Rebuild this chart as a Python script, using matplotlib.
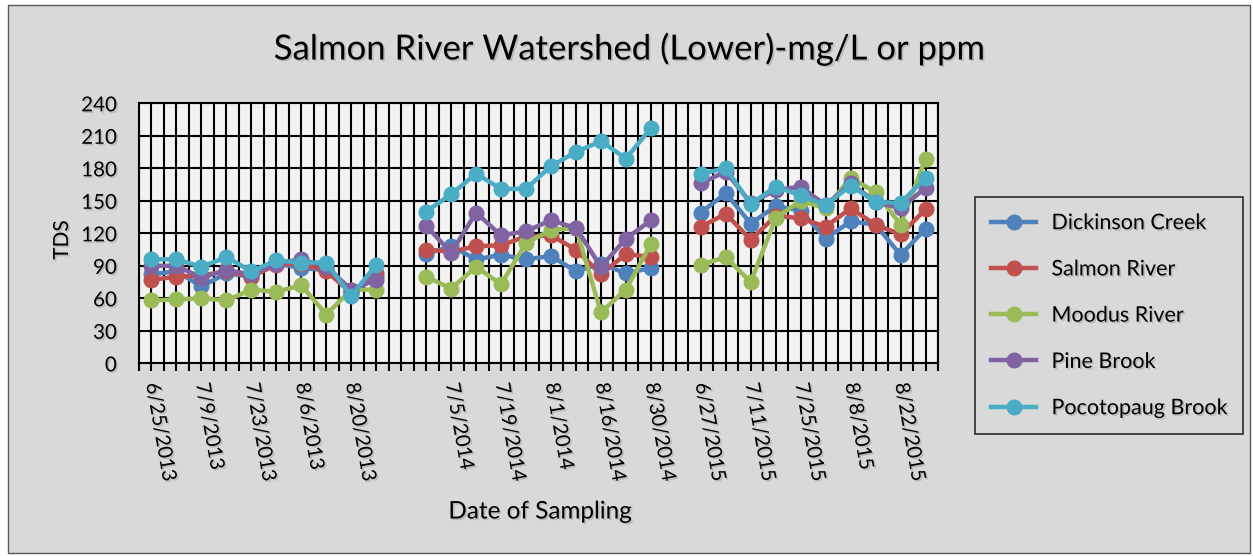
import numpy as np
import matplotlib
matplotlib.use("Agg")
import matplotlib.pyplot as plt
import matplotlib.patheffects as pe
from matplotlib.patches import Rectangle

# ── 데이터 ──────────────────────────────────────────────
dates = (
    ["6/25/2013", "7/2/2013", "7/9/2013", "7/16/2013", "7/23/2013",
     "7/30/2013", "8/6/2013", "8/13/2013", "8/20/2013", "8/27/2013"]
    + [""]
    + ["6/28/2014", "7/5/2014", "7/12/2014", "7/19/2014", "7/26/2014",
       "8/1/2014", "8/9/2014", "8/16/2014", "8/23/2014", "8/30/2014"]
    + [""]
    + ["6/27/2015", "7/4/2015", "7/11/2015", "7/18/2015", "7/25/2015",
       "8/1/2015", "8/8/2015", "8/15/2015", "8/22/2015", "8/29/2015"]
)

gap = [None]
dickinson = ([82, 85, 71, 83, 80, 92, 88, 86, 66, 80] + gap
             + [101, 108, 96, 100, 96, 99, 85, 92, 83, 88] + gap
             + [139, 157, 129, 145, 141, 115, 131, 128, 100, 124])
salmon = ([77, 80, 81, 85, 80, 91, 92, 85, 65, 83] + gap
          + [105, 103, 108, 109, 117, 118, 105, 82, 101, 98] + gap
          + [126, 138, 114, 136, 134, 126, 143, 128, 119, 142])
moodus = ([58, 59, 60, 58, 68, 66, 72, 45, 68, 68] + gap
          + [80, 69, 89, 73, 111, 123, 125, 47, 68, 110] + gap
          + [91, 98, 75, 134, 150, 143, 171, 158, 128, 189])
pine = ([90, 90, 79, 86, 82, 92, 96, 89, 68, 77] + gap
        + [127, 102, 139, 118, 122, 132, 125, 89, 115, 132] + gap
        + [166, 177, 148, 160, 163, 146, 166, 149, 143, 162])
pocotopaug = ([96, 96, 89, 98, 85, 95, 93, 93, 62, 91] + gap
              + [140, 156, 175, 161, 161, 182, 195, 205, 189, 217] + gap
              + [175, 180, 147, 163, 155, 146, 164, 149, 148, 171])

series_names = ["Dickinson Creek", "Salmon River", "Moodus River",
                "Pine Brook", "Pocotopaug Brook"]
series_values = [dickinson, salmon, moodus, pine, pocotopaug]
colors = ["#4F81BD", "#C0504D", "#9BBB59", "#8064A2", "#4BACC6"]

# ── 그리기 ──────────────────────────────────────────────
FONT = ["Lato", "DejaVu Sans"]
plt.rcParams["font.family"] = FONT

W, H = 1253, 556
fig = plt.figure(figsize=(W / 100, H / 100), dpi=100)
fig.patch.set_facecolor("white")

# 차트 바깥 회색 영역 + 테두리
fig.add_artist(Rectangle((8 / W, 3 / H), (1250 - 8) / W, (551 - 3) / H,
                         transform=fig.transFigure, facecolor="#d9d9d9",
                         edgecolor="#595959", lw=1.0, zorder=0))

ax = fig.add_axes([139 / W, (H - 363.3) / H, (938 - 139) / W,
                   (363.3 - 103.3) / H])
ax.set_facecolor("#f2f2f2")

shadow = [pe.withSimplePatchShadow(offset=(1.2, -1.2), shadow_rgbFace="gray",
                                   alpha=0.35)]

x = np.arange(len(dates))
for name, vals, c in zip(series_names, series_values, colors):
    y = np.array([np.nan if v is None else v for v in vals], dtype=float)
    ax.plot(x, y, color=c, lw=3.2, marker="o", ms=10.5, mec=c, mfc=c,
            label=name, zorder=3)

ax.set_xlim(-0.5, len(dates) - 0.5)
ax.set_ylim(0, 240)
ax.set_yticks(np.arange(0, 241, 30))

ax.set_xticks(x)
ax.set_xticklabels([d if i % 2 == 0 else "" for i, d in enumerate(dates)],
                   rotation=-80, rotation_mode="anchor", ha="left",
                   va="center", fontsize=14.5)
ax.set_xticks(np.arange(-0.5, len(dates), 1.0), minor=True)

ax.grid(True, which="both", axis="x", color="black", lw=1.5, zorder=1)
ax.grid(True, which="major", axis="y", color="black", lw=1.5, zorder=1)
ax.set_axisbelow(True)

ax.tick_params(axis="x", which="both", direction="out", length=6,
               width=1.5, color="black", pad=8)
ax.tick_params(axis="y", length=0, pad=16, labelsize=14.8)
for lbl in ax.get_xticklabels() + ax.get_yticklabels():
    lbl.set_path_effects(shadow)

for sp in ax.spines.values():
    sp.set_color("black")
    sp.set_linewidth(1.5)

fig.text(0.503, 0.912, "Salmon River Watershed (Lower)-mg/L or ppm",
         ha="center", va="center", fontsize=25, path_effects=shadow)
fig.text(62 / W, (H - 240) / H, "TDS", rotation=90, ha="center",
         va="center", fontsize=15, path_effects=shadow)
fig.text(540 / W, (H - 512) / H, "Date of Sampling", ha="center",
         va="center", fontsize=17.5, path_effects=shadow)

leg = fig.legend(loc="upper left", bbox_to_anchor=(975 / W, (H - 197) / H),
                 fontsize=15.5, frameon=True, fancybox=False,
                 handlelength=2.1, handletextpad=0.7, labelspacing=1.22,
                 borderpad=0.75, borderaxespad=0)
leg.get_frame().set_edgecolor("black")
leg.get_frame().set_linewidth(1.2)
leg.get_frame().set_facecolor("#d9d9d9")
for t in leg.get_texts():
    t.set_path_effects(shadow)

fig.savefig("out.png", dpi=100, facecolor=fig.get_facecolor())
